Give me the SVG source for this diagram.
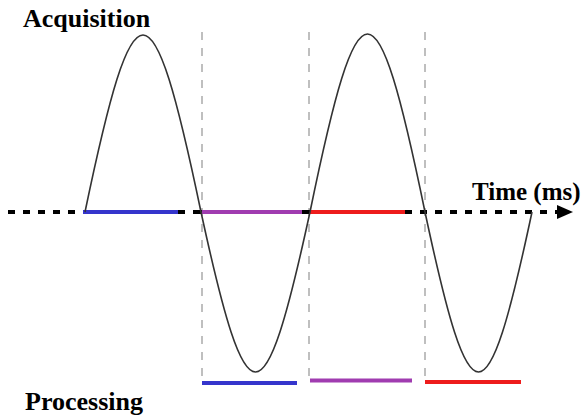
<svg xmlns="http://www.w3.org/2000/svg" width="582" height="417" viewBox="0 0 582 417">
<style>
.lbl{font-family:"Liberation Serif","Times New Roman",serif;font-weight:bold;font-size:26px;fill:#000}
.guide{stroke:#aaaaaa;stroke-width:1.5;stroke-dasharray:8 8;fill:none}
.axis{stroke:#000;stroke-width:4;stroke-dasharray:7 8;fill:none}
.blk{stroke:#000;stroke-width:4;fill:none}
.bar{stroke-width:4;fill:none}
.blue{stroke:#3535cc}
.purple{stroke:#a03cb0}
.red{stroke:#ee1c1c}
.wave{stroke:#333;stroke-width:1.6;fill:none}
</style>
<rect width="582" height="417" fill="#fff"/>
<g id="guides">
<line class="guide" x1="202" y1="32" x2="202" y2="383"/>
<line class="guide" x1="309" y1="32" x2="309" y2="381"/>
<line class="guide" x1="425" y1="32" x2="425" y2="382"/>
</g>
<g id="axis">
<line class="axis" x1="8" y1="212" x2="83" y2="212"/>
<line class="blk" x1="178" y1="212" x2="185" y2="212"/>
<line class="blk" x1="193" y1="212" x2="202" y2="212"/>
<line class="blk" x1="302" y1="212" x2="310" y2="212"/>
<line class="axis" x1="405" y1="212" x2="558" y2="212"/>
<polygon points="557,205 573,212 557,219" fill="#000"/>
</g>
<g id="acquisition-bars">
<line class="bar blue" x1="83" y1="212" x2="178" y2="212"/>
<line class="bar purple" x1="202" y1="212" x2="302" y2="212"/>
<line class="bar red" x1="310" y1="212" x2="405" y2="212"/>
</g>
<g id="processing-bars">
<line class="bar blue" x1="202" y1="383" x2="297" y2="383"/>
<line class="bar purple" x1="310" y1="380.5" x2="412" y2="380.5"/>
<line class="bar red" x1="425" y1="382" x2="521" y2="382"/>
</g>
<g id="wave">
<path class="wave" d="M85,212 C134.2,-24 151.8,-24 201,212 C247.3,425.3 263.7,425.3 310,212 C358.8,-25.3 376.2,-25.3 425,212 C470.4,425.3 486.6,425.3 532,212"/>
</g>
<g id="labels">
<text class="lbl" x="23" y="27">Acquisition</text>
<text class="lbl" x="25" y="410">Processing</text>
<text class="lbl" x="472" y="200" style="font-size:25px">Time (ms)</text>
</g>
</svg>
